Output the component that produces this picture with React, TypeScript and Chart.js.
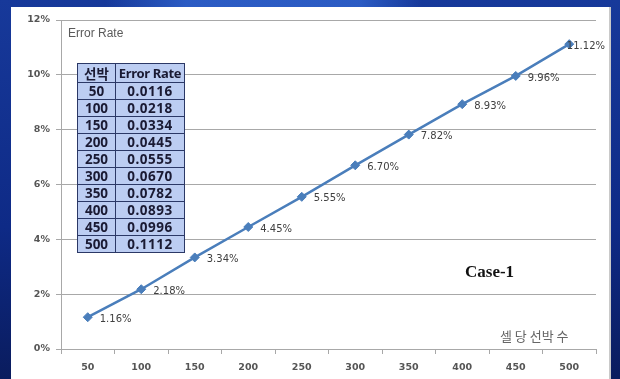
import React, { useEffect, useRef } from "react";
import { Chart, registerables } from "chart.js";

Chart.register(...registerables);

const categories = ["50", "100", "150", "200", "250", "300", "350", "400", "450", "500"];
const errorRates = [0.0116, 0.0218, 0.0334, 0.0445, 0.0555, 0.067, 0.0782, 0.0893, 0.0996, 0.1112];
const tableHeader = ["선박", "Error Rate"];
const yAxisTitle = "Error Rate";
const xAxisTitle = "셀 당 선박 수";
const caseLabel = "Case-1";

const LINE_COLOR = "#4a7ebb";
const GRID_COLOR = "#a8a8a8";

const dataLabelPlugin = {
  id: "pointLabels",
  afterDatasetsDraw(chart: any) {
    const ctx = chart.ctx;
    const meta = chart.getDatasetMeta(0);
    const values = chart.data.datasets[0].data as number[];
    ctx.save();
    ctx.font = '10px "DejaVu Sans"';
    ctx.fillStyle = "#404040";
    ctx.textBaseline = "middle";
    ctx.textAlign = "left";
    meta.data.forEach((pt: any, i: number) => {
      const text = (values[i] * 100).toFixed(2) + "%";
      const w = ctx.measureText(text).width;
      const x = Math.min(pt.x + 12, chart.width - 15 - w);
      ctx.fillText(text, x, pt.y + 2);
    });
    ctx.restore();
  },
};

export default function App() {
  const canvasRef = useRef<HTMLCanvasElement | null>(null);

  useEffect(() => {
    if (!canvasRef.current) return;
    const chart = new Chart(canvasRef.current, {
      type: "line",
      data: {
        labels: categories,
        datasets: [
          {
            data: errorRates,
            borderColor: LINE_COLOR,
            backgroundColor: LINE_COLOR,
            borderWidth: 2.5,
            pointStyle: "rectRot",
            pointRadius: 4.5,
            pointBorderWidth: 1,
            pointBackgroundColor: LINE_COLOR,
            pointBorderColor: LINE_COLOR,
            tension: 0,
          },
        ],
      },
      options: {
        responsive: false,
        animation: false,
        layout: { padding: { left: 21, top: 20, right: 24, bottom: 0 } },
        plugins: {
          legend: { display: false },
          tooltip: { enabled: false },
        },
        scales: {
          x: {
            type: "category",
            offset: true,
            grid: {
              offset: true,
              drawOnChartArea: false,
              drawTicks: true,
              tickLength: 5,
              color: GRID_COLOR,
            },
            border: { color: GRID_COLOR, width: 1 },
            ticks: {
              color: "#555",
              font: { family: "DejaVu Sans", size: 9.5, weight: "bold" },
              padding: 8,
              maxRotation: 0,
            },
            afterFit(scale: any) {
              scale.height = 30;
            },
          },
          y: {
            min: 0,
            max: 0.12,
            grid: {
              color: GRID_COLOR,
              lineWidth: 1,
              drawTicks: true,
              tickLength: 5,
            },
            border: { color: GRID_COLOR, width: 1 },
            ticks: {
              stepSize: 0.02,
              color: "#555",
              font: { family: "DejaVu Sans", size: 9.5, weight: "bold" },
              padding: 6,
              callback: (v: any) => Math.round(Number(v) * 100) + "%",
            },
            afterFit(scale: any) {
              scale.width = 40;
            },
          },
        },
      },
      plugins: [dataLabelPlugin],
    } as any);
    return () => chart.destroy();
  }, []);

  const cellBorder = "1px solid #2b3866";
  const cellStyle: React.CSSProperties = {
    border: cellBorder,
    padding: 0,
    textAlign: "center",
    height: 16,
    lineHeight: "16px",
    whiteSpace: "nowrap",
    overflow: "hidden",
  };

  return (
    <div
      style={{
        position: "fixed",
        left: 0,
        top: 0,
        width: 620,
        height: 379,
        overflow: "hidden",
        background:
          "linear-gradient(90deg, rgba(40,90,200,0) 0%, rgba(40,90,200,0) 17%, rgba(45,95,200,0.9) 30%, rgba(45,95,200,0.9) 58%, rgba(10,30,90,0) 68%), linear-gradient(180deg, #17399a 0%, #0e2a86 60%, #0a1c5e 100%)",
      }}
    >
      <div
        style={{
          position: "absolute",
          left: 11,
          top: 7,
          width: 598,
          height: 380,
          background: "#ffffff",
          borderRight: "2px solid #c9c9c9",
          boxSizing: "content-box",
        }}
      />
      <canvas
        ref={canvasRef}
        width={620}
        height={379}
        style={{ position: "absolute", left: 0, top: 0, display: "block" }}
      />
      <div
        style={{
          position: "absolute",
          left: 68,
          top: 26,
          fontFamily: '"Liberation Sans", Arial, sans-serif',
          fontSize: 12,
          lineHeight: "14px",
          color: "#5a5a5a",
          whiteSpace: "nowrap",
        }}
      >
        {yAxisTitle}
      </div>
      <table
        style={{
          position: "absolute",
          left: 77,
          top: 63,
          width: 107,
          borderCollapse: "collapse",
          tableLayout: "fixed",
          background: "#bccdf2",
          fontFamily: '"Noto Sans", "Noto Sans CJK KR", sans-serif',
          fontWeight: "bold",
          fontSize: 13.5,
          color: "#1a1a33",
        }}
      >
        <colgroup>
          <col style={{ width: 38 }} />
          <col style={{ width: 69 }} />
        </colgroup>
        <tbody>
          <tr>
            <td style={{ ...cellStyle, height: 18, lineHeight: "18px", fontFamily: '"Noto Sans CJK KR", sans-serif' }}>
              {tableHeader[0]}
            </td>
            <td style={{ ...cellStyle, height: 18, lineHeight: "18px", fontSize: 13, letterSpacing: -0.3 }}>
              {tableHeader[1]}
            </td>
          </tr>
          {categories.map((c, i) => (
            <tr key={c}>
              <td style={cellStyle}>{c}</td>
              <td style={{ ...cellStyle, letterSpacing: 0.5 }}>{errorRates[i].toFixed(4)}</td>
            </tr>
          ))}
        </tbody>
      </table>
      <div
        style={{
          position: "absolute",
          left: 465,
          top: 262,
          fontFamily: '"Liberation Serif", "DejaVu Serif", serif',
          fontWeight: "bold",
          fontSize: 17,
          lineHeight: "20px",
          color: "#111",
          whiteSpace: "nowrap",
        }}
      >
        {caseLabel}
      </div>
      <div
        style={{
          position: "absolute",
          left: 500,
          top: 327,
          fontFamily: '"Noto Sans CJK KR", sans-serif',
          fontSize: 13,
          lineHeight: "18px",
          color: "#666",
          whiteSpace: "nowrap",
        }}
      >
        {xAxisTitle}
      </div>
    </div>
  );
}
